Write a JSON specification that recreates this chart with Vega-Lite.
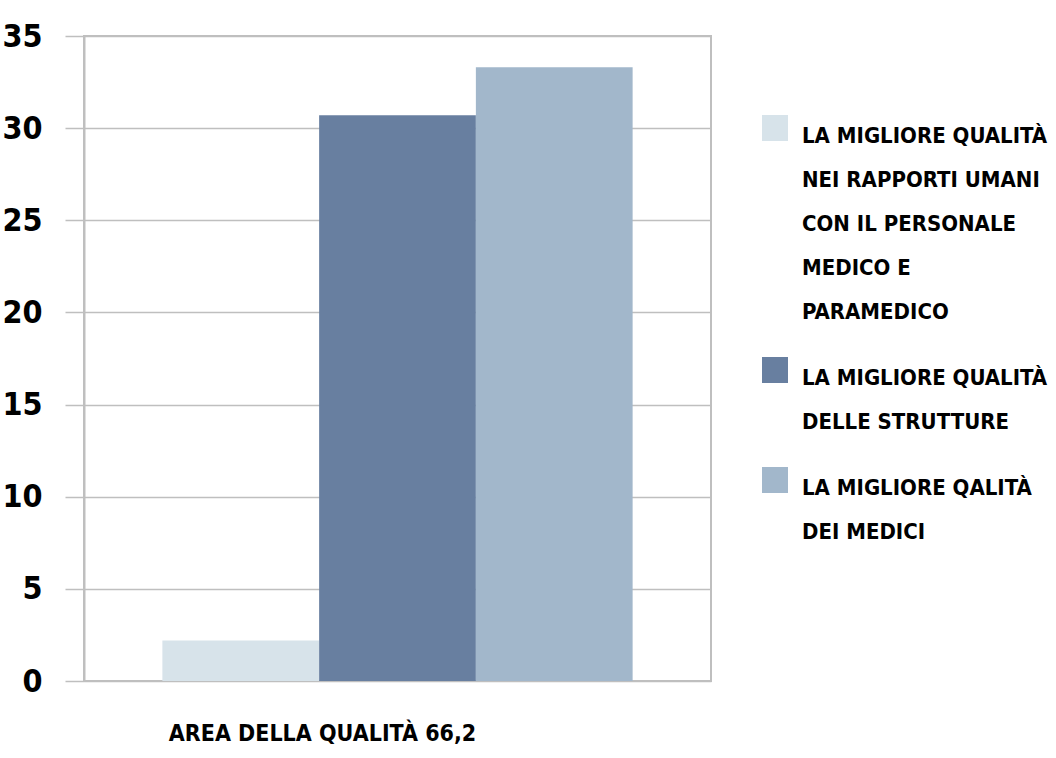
{
  "$schema": "https://vega.github.io/schema/vega-lite/v6.json",
  "width": 627,
  "height": 645,
  "autosize": {"type": "none"},
  "padding": {"left": 84, "top": 36, "right": 345, "bottom": 77},
  "background": "white",
  "config": {
    "font": "DejaVu Sans Condensed",
    "view": {"stroke": "#bfbfbf", "strokeWidth": 2}
  },
  "data": {
    "values": [
      {"area": "AREA DELLA QUALITÀ 66,2", "serie": "LA MIGLIORE QUALITÀ|NEI RAPPORTI UMANI|CON IL PERSONALE|MEDICO E|PARAMEDICO", "ordine": 1, "valore": 2.2},
      {"area": "AREA DELLA QUALITÀ 66,2", "serie": "LA MIGLIORE QUALITÀ|DELLE STRUTTURE", "ordine": 2, "valore": 30.7},
      {"area": "AREA DELLA QUALITÀ 66,2", "serie": "LA MIGLIORE QALITÀ|DEI MEDICI", "ordine": 3, "valore": 33.3}
    ]
  },
  "mark": {"type": "bar"},
  "encoding": {
    "x": {
      "field": "area",
      "type": "nominal",
      "scale": {"paddingInner": 0.25, "paddingOuter": 0.125},
      "axis": {
        "title": null,
        "labelAngle": 0,
        "labelFont": "DejaVu Sans Condensed",
        "labelFontWeight": "bold",
        "labelFontSize": 23,
        "labelColor": "#000000",
        "labelPadding": 41,
        "labelOffset": -75,
        "labelLimit": 600,
        "ticks": false,
        "domain": false
      }
    },
    "xOffset": {
      "field": "serie",
      "type": "nominal",
      "sort": {"field": "ordine"},
      "scale": {"paddingInner": 0, "paddingOuter": 0}
    },
    "y": {
      "field": "valore",
      "type": "quantitative",
      "scale": {"domain": [0, 35]},
      "axis": {
        "title": null,
        "values": [0, 5, 10, 15, 20, 25, 30, 35],
        "grid": true,
        "gridColor": "#bfbfbf",
        "gridWidth": 1.5,
        "domain": true,
        "domainColor": "#bfbfbf",
        "domainWidth": 2,
        "ticks": true,
        "tickSize": 19,
        "tickColor": "#bfbfbf",
        "tickWidth": 1.5,
        "labelFont": "DejaVu Sans Condensed",
        "labelFontWeight": "bold",
        "labelFontSize": 32,
        "labelColor": "#000000",
        "labelPadding": 23
      }
    },
    "color": {
      "field": "serie",
      "type": "nominal",
      "sort": {"field": "ordine"},
      "scale": {"range": ["#d7e3ea", "#687fa0", "#a2b7cb"]},
      "legend": {
        "title": null,
        "orient": "none",
        "legendX": 678,
        "legendY": 79,
        "symbolType": "square",
        "symbolSize": 676,
        "symbolStrokeWidth": 0,
        "labelFont": "DejaVu Sans Condensed",
        "labelFontWeight": "bold",
        "labelFontSize": 22,
        "labelColor": "#000000",
        "labelOffset": 14,
        "labelLimit": 400,
        "rowPadding": 34,
        "labelExpr": "split(datum.label, '|')",
        "encode": {
          "labels": {
            "update": {
              "baseline": {"value": "top"},
              "lineHeight": {"value": 44},
              "dy": {"value": -2}
            }
          }
        }
      }
    }
  }
}
